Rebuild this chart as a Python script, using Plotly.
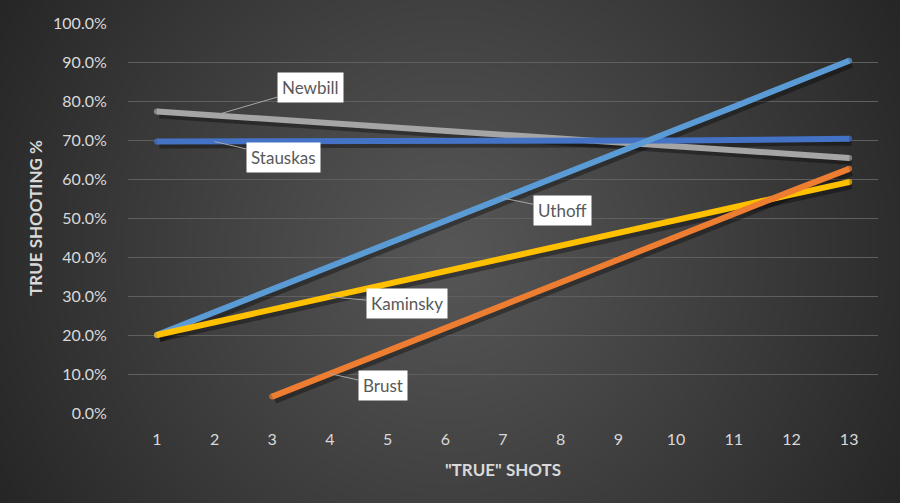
import base64, zlib, struct
import numpy as np
import plotly.graph_objects as go

# ---------------- data ----------------
shots = list(range(1, 14))
newbill = [77.3, 76.3, 75.3, 74.4, 73.4, 72.4, 71.4, 70.4, 69.4, 68.5, 67.5, 66.5, 65.4]
stauskas = [69.6, 69.6, 69.6, 69.7, 69.7, 69.7, 69.8, 69.8, 69.9, 69.9, 70.0, 70.3, 70.3]
uthoff = [20.0, 25.9, 31.7, 37.6, 43.4, 49.3, 55.1, 61.0, 66.8, 72.7, 78.5, 84.4, 90.3]
kaminsky = [20.0, 23.3, 26.6, 29.8, 33.1, 36.4, 39.7, 42.9, 46.2, 49.5, 52.8, 56.0, 59.2]
brust = [None, None, 4.2, 10.1, 15.9, 21.8, 27.6, 33.5, 39.4, 45.2, 51.1, 56.9, 62.6]

series = [
    ("Newbill", newbill, "#a5a5a5"),
    ("Stauskas", stauskas, "#4472c4"),
    ("Uthoff", uthoff, "#5b9bd5"),
    ("Kaminsky", kaminsky, "#ffc000"),
    ("Brust", brust, "#ed7d31"),
]
# label: (series name, category index it points to, pixel offset of label)
labels = [("Newbill", 2, 96, -28), ("Stauskas", 2, 69, 16), ("Uthoff", 7, 59, 12),
          ("Kaminsky", 4, 77, 7), ("Brust", 4, 53, 12)]

# ---------------- background gradient png ----------------
W, H = 900, 503
yy, xx = np.mgrid[0:H, 0:W]
cx, cy = W / 2, H / 2
r = np.sqrt(((xx - cx) / (W / 2)) ** 2 + ((yy - cy) / (W / 2)) ** 2)
r = r / r.max()
img = (86 - (86 - 38) * np.clip(r, 0, 1) ** 1.1).astype(np.uint8)
raw = b"".join(b"\x00" + img[i].tobytes() for i in range(H))
def chunk(t, d):
    c = struct.pack(">I", len(d)) + t + d
    return c + struct.pack(">I", zlib.crc32(t + d) & 0xffffffff)
png = b"\x89PNG\r\n\x1a\n" + chunk(b"IHDR", struct.pack(">IIBBBBB", W, H, 8, 0, 0, 0, 0)) \
      + chunk(b"IDAT", zlib.compress(raw, 9)) + chunk(b"IEND", b"")
uri = "data:image/png;base64," + base64.b64encode(png).decode()

L, R, T, B = 128, 22, 23, 90
pw, ph = W - L - R, H - T - B

fig = go.Figure()
# shadows
for name, vals, col in series:
    xs = [x + 0.045 for x, v in zip(shots, vals)]
    ys = [None if v is None else v / 100 - 0.009 for v in vals]
    fig.add_trace(go.Scatter(x=xs, y=ys, mode="lines", line=dict(color="rgba(0,0,0,0.35)", width=7),
                             hoverinfo="skip", showlegend=False))
for name, vals, col in series:
    ys = [None if v is None else v / 100 for v in vals]
    idx = [i for i, v in enumerate(vals) if v is not None]
    sizes = [6 if i in (idx[0], idx[-1]) else 0 for i in range(len(vals))]
    fig.add_trace(go.Scatter(x=shots, y=ys, mode="lines+markers", name=name,
                             line=dict(color=col, width=6),
                             marker=dict(color=col, size=sizes, line=dict(width=0)),
                             showlegend=False))

data_map = {n: v for n, v, c in series}
for name, cat, ax, ay in labels:
    fig.add_annotation(x=cat, y=data_map[name][cat - 1] / 100, text=name, showarrow=True,
                       ax=ax, ay=ay, arrowhead=0, arrowwidth=1, arrowcolor="#a6a6a6",
                       bgcolor="white", borderpad=4,
                       font=dict(family="Lato", size=17, color="#595959"))

fig.add_layout_image(dict(source=uri, xref="paper", yref="paper", x=-L / pw, y=1 + T / ph,
                          sizex=W / pw, sizey=H / ph, sizing="stretch", layer="below",
                          xanchor="left", yanchor="top"))

fig.update_layout(
    width=W, height=H, margin=dict(l=L, r=R, t=T, b=B),
    paper_bgcolor="#262626", plot_bgcolor="rgba(0,0,0,0)",
    font=dict(family="Lato", size=16, color="#d9d9d9"),
    xaxis=dict(range=[0.5, 13.5], tickmode="array", tickvals=shots, ticktext=[str(s) for s in shots],
               showgrid=False, zeroline=False, showline=False,
               ticks="outside", ticklen=12, tickcolor="rgba(0,0,0,0)",
               tickfont=dict(size=16, color="#d9d9d9"),
               title=dict(text="<b>\"TRUE\" SHOTS</b>", font=dict(size=17, color="#d9d9d9"), standoff=16)),
    yaxis=dict(range=[0, 1.0], tickformat=".1%", dtick=0.1, showgrid=True, gridcolor="#5f5f5f",
               gridwidth=1, zeroline=False, showline=False,
               ticks="outside", ticklen=17, tickcolor="rgba(0,0,0,0)",
               tickfont=dict(size=16, color="#d9d9d9"),
               title=dict(text="<b>TRUE SHOOTING %</b>", font=dict(size=17, color="#d9d9d9"), standoff=6)),
)
fig.write_html("out.html", config={"displayModeBar": False},
               post_script="document.body.style.margin='0';document.body.style.background='#262626';")
